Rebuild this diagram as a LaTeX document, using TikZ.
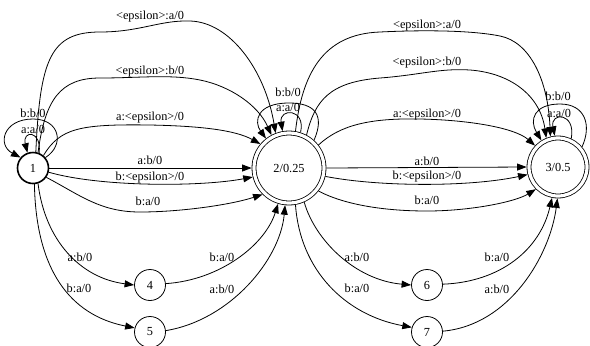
\documentclass[tikz,border=0pt]{standalone}
\usepackage{fontspec}
\setmainfont{Liberation Serif}
\usetikzlibrary{arrows.meta}
\tikzset{
  state/.style={circle, draw, line width=0.8bp, inner sep=0pt, minimum size=31bp},
  startstate/.style={state, line width=1.6bp, minimum size=31bp},
  accept/.style={state, double, double distance=3.2bp, outer sep=2.4bp},
  arc/.style={line width=0.8bp, -{Triangle[length=9.5bp,width=7bp]}},
  lbl/.style={inner sep=0pt}
}
\begin{document}
\begin{tikzpicture}[x=1bp, y=-1bp, font=\fontsize{12.3bp}{14bp}\selectfont]
\path[use as bounding box] (0,0) rectangle (590,345);

% states
\node[startstate] (n1) at (33,168) {1};
\node[accept, minimum size=70bp] (n2) at (289,168) {2/0.25};
\node[accept, minimum size=58bp] (n3) at (558,167) {3/0.5};
\node[state] (n4) at (150,285) {4};
\node[state] (n5) at (150,332) {5};
\node[state] (n6) at (427,285) {6};
\node[state] (n7) at (427,332) {7};

% self loops on state 1
\draw[arc] (n1.40) .. controls (65,145) and (60,119) .. (33,119)
           .. controls (3,119) and (-3,145) .. (n1.140);
\draw[arc] (n1.68) .. controls (42,130) and (22,130) .. (n1.110);
\node[lbl] (l1bb) at (33,113) {b:b/0};
\node[lbl] (l1aa) at (33,129) {a:a/0};

% state 1 -> state 2
\draw[arc] (n1.80) .. controls (40,60) and (50,32) .. (100,32)
           .. controls (140,32) and (160,20) .. (190,21)
           .. controls (230,22) and (265,70) .. (n2.111);
\node[lbl] (l12a) at (150,17) {<epsilon>:a/0};
\draw[arc] (n1.72) .. controls (45,100) and (60,78) .. (100,78)
           .. controls (140,78) and (170,74) .. (200,80)
           .. controls (230,86) and (258,105) .. (n2.118);
\node[lbl] (l12b) at (150,72) {<epsilon>:b/0};
\draw[arc] (n1.50) .. controls (60,128) and (80,124) .. (150,125)
           .. controls (200,126) and (235,130) .. (n2.140);
\node[lbl] (l12c) at (150,118) {a:<epsilon>/0};
\draw[arc] (n1.0) -- (n2.180);
\node[lbl] (l12d) at (150,160) {a:b/0};
\draw[arc] (n1.-15) .. controls (100,187) and (200,187) .. (n2.-166);
\node[lbl] (l12e) at (150,178) {b:<epsilon>/0};
\draw[arc] (n1.-35) .. controls (80,195) and (100,212) .. (140,212)
           .. controls (180,212) and (230,205) .. (n2.-135);
\node[lbl] (l12f) at (148,201) {b:a/0};

% state 1 -> states 4, 5 -> state 2
\draw[arc] (n1.-72) .. controls (45,240) and (80,278) .. (n4.180);
\node[lbl] (l14) at (80,257) {a:b/0};
\draw[arc] (n1.-85) .. controls (36,270) and (70,315) .. (n5.165);
\node[lbl] (l15) at (79,288) {b:a/0};
\draw[arc] (n4.5) .. controls (220,280) and (265,245) .. (n2.-107);
\node[lbl] (l42) at (222,257) {b:a/0};
\draw[arc] (n5.5) .. controls (230,320) and (280,260) .. (n2.-96);
\node[lbl] (l52) at (222,289) {a:b/0};

% self loops on state 2
\draw[arc] (n2.48) .. controls (325,115) and (315,103) .. (289,103)
           .. controls (256,103) and (254,122) .. (n2.128);
\draw[arc] (n2.72) .. controls (306,108) and (279,108) .. (n2.100);
\node[lbl] (l2bb) at (288,92) {b:b/0};
\node[lbl] (l2aa) at (288,107) {a:a/0};

% state 2 -> state 3
\draw[arc] (n2.80) .. controls (302,75) and (322,34) .. (380,32)
           .. controls (420,30) and (470,30) .. (500,36)
           .. controls (530,42) and (548,80) .. (n3.104);
\node[lbl] (l23a) at (427,26) {<epsilon>:a/0};
\draw[arc] (n2.62) .. controls (315,100) and (330,82) .. (380,78)
           .. controls (420,75) and (440,68) .. (470,70)
           .. controls (510,73) and (540,95) .. (n3.112);
\node[lbl] (l23b) at (427,63) {<epsilon>:b/0};
\draw[arc] (n2.38) .. controls (340,125) and (370,118) .. (420,119)
           .. controls (470,120) and (515,128) .. (n3.137);
\node[lbl] (l23c) at (427,115) {a:<epsilon>/0};
\draw[arc] (n2.0) -- (n3.180);
\node[lbl] (l23d) at (427,161) {a:b/0};
\draw[arc] (n2.-13) .. controls (380,187) and (470,187) .. (n3.-166);
\node[lbl] (l23e) at (427,177) {b:<epsilon>/0};
\draw[arc] (n2.-38) .. controls (345,205) and (385,211) .. (427,211)
           .. controls (470,211) and (515,202) .. (n3.-135);
\node[lbl] (l23f) at (427,200) {b:a/0};

% state 2 -> states 6, 7 -> state 3
\draw[arc] (n2.-66) .. controls (315,240) and (355,280) .. (n6.180);
\node[lbl] (l26) at (357,257) {a:b/0};
\draw[arc] (n2.-80) .. controls (300,270) and (345,315) .. (n7.163);
\node[lbl] (l27) at (357,288) {b:a/0};
\draw[arc] (n6.3) .. controls (500,282) and (540,250) .. (n3.-101);
\node[lbl] (l63) at (497,257) {b:a/0};
\draw[arc] (n7.3) .. controls (510,325) and (550,255) .. (n3.-91);
\node[lbl] (l73) at (497,289) {a:b/0};

% self loops on state 3
\draw[arc] (n3.40) .. controls (592,125) and (585,104) .. (560,104)
           .. controls (534,104) and (529,120) .. (n3.122);
\draw[arc] (n3.65) .. controls (576,112) and (550,112) .. (n3.96);
\node[lbl] (l3bb) at (558,96) {b:b/0};
\node[lbl] (l3aa) at (559,113) {a:a/0};
\end{tikzpicture}
\end{document}
